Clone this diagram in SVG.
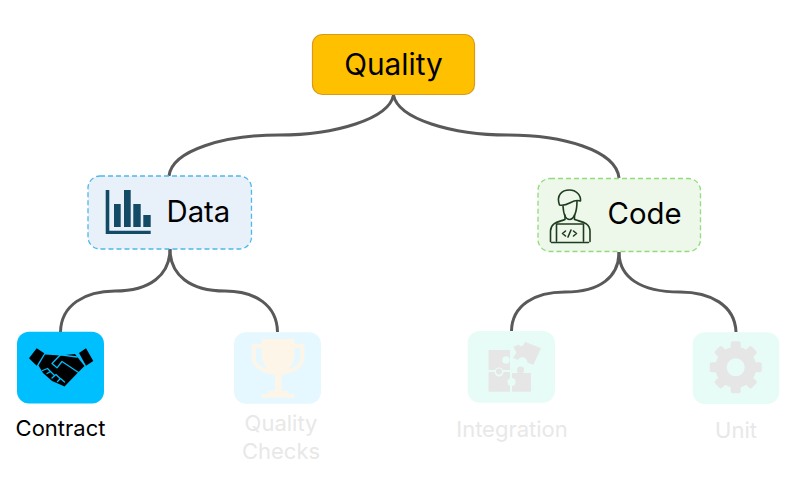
<svg xmlns="http://www.w3.org/2000/svg" width="790" height="477" viewBox="0 0 790 477">
<style>
text{font-family:"Inter","Noto Sans","Liberation Sans",sans-serif;fill:#000}
.big{font-size:29.800px}
.mid{font-size:29.300px}
.small{font-size:22px}
.faint{fill:#e8e8e8}
.link{fill:none;stroke:#595959;stroke-width:3}
.pz{fill:#e6e6e6}
.pzb{fill:#e8fcf7}
.tr{fill:#fdf5e8}
.trs{fill:none;stroke:#fdf5e8;stroke-width:4}
.ic{fill:#134a66}
.ps{fill:none;stroke:#1e3d1e;stroke-width:1.600;stroke-linejoin:round;stroke-linecap:round}
.gap{fill:none;stroke:#00bfff;stroke-width:1.300;stroke-linecap:round;stroke-linejoin:round}
</style>
<rect width="790" height="477" fill="#fff"/>
<g id="connectors">
<path class="link" d="M393.500 95C389 119 335 135 279 135C225 135 172 150 169 176"/>
<path class="link" d="M393.500 95C398 119 452 135 508 135C562 135 616 150 619 178"/>
<path class="link" d="M170 249C170 275 150 291 115 291C85 291 61 305 60.500 332"/>
<path class="link" d="M170 249C170 275 190 291 225 291C255 291 277 305 277.500 332"/>
<path class="link" d="M619 252C619 277 600 292 565 292C535 292 512 305 511.500 331"/>
<path class="link" d="M619 252C619 277 640 292 680 292C710 292 735 305 736 332"/>
</g>
<g id="quality">
<rect x="312.500" y="34.500" width="162" height="60" rx="10" fill="#ffc000" stroke="#d99a1c" stroke-width="1.200"/>
<text class="big" x="393.500" y="75" text-anchor="middle">Quality</text>
</g>
<g id="data">
<rect x="88" y="176" width="163.500" height="73" rx="12" fill="#e8f1fa" stroke="#4db8e8" stroke-width="1.300" stroke-dasharray="5 3"/>
<path class="ic" d="M105.700 190h3.600v40.700h41.400v3.300h-45zM114 204h6.700v23H114zM124 190h6.700v37H124zM133.300 204h7.400v23h-7.400zM143.300 215h7.400v12h-7.400z"/>
<text class="mid" x="166.500" y="221.500">Data</text>
</g>
<g id="code">
<rect x="538" y="178.500" width="162.500" height="73" rx="12" fill="#edf7ea" stroke="#92dc7e" stroke-width="1.300" stroke-dasharray="5 3"/>
<path class="ps" d="M559.500 205C556 195 562 190 569.500 190C576 190 581 195 580.500 201C572 198 569 207 559.500 205Z"/>
<path class="ps" d="M563 206C563.500 214 566 219.500 569.500 219.500C574 219.500 577 212 577 201"/>
<path class="ps" d="M565 215V219.500C559 222 551 222 550.500 231V241.500M574.500 215V219.500C581 222 589.500 222 590 231V241.500"/>
<path class="ps" d="M556.500 241V224H583.500V241M551.500 242.500H588.500"/>
<path class="ps" stroke-width="1.300" d="M565.500 231L562.500 233.500L565.500 236M573.500 231L576.500 233.500L573.500 236M571 230L568 237"/>
<text class="mid" x="607.500" y="224">Code</text>
</g>
<g id="contract">
<rect x="17" y="331.700" width="87" height="71.700" rx="12" fill="#00bfff"/>
<path d="M29 358.300L36.700 348.300L44.300 353.300L36.700 365.700ZM79 353L86 348.300L93.300 361L86 365.700Z"/>
<path d="M38.500 365.500L45 354.500L60 355.500L75 354L84.500 366L78.500 372L64.500 386.500L59 384L52 381L43 373Z"/>
<path class="gap" d="M77 357L60.500 354.800L52 363.500L57 367.800L62 361.500L78.500 372.500"/>
<path class="gap" d="M42.500 370.500L47.500 368.500L50 371M47 373.500L50.500 371.500L54 375M52 378L56 374.500L60 378.500M57.500 381.500L60.500 378.500L64.500 382"/>
<text class="small" x="60.500" y="436" text-anchor="middle">Contract</text>
</g>
<g id="quality-checks">
<rect x="234" y="332.300" width="87" height="71.500" rx="12" fill="#e5f8ff"/>
<path class="tr" d="M261.700 339H294.300V355C294.300 365 286 373 281.700 375V390.700H288.300V394H294.300V397.500H261.700V394H268.300V390.700H275V375C270 373 261.700 365 261.700 355Z"/>
<path class="trs" d="M262 346H253.700V358C253.700 366 264 372 277 373.500M294 346H302.300V358C302.300 366 292 372 279 373.500"/>
<text class="small faint" x="281" y="431" text-anchor="middle">Quality</text>
<text class="small faint" x="281" y="459" text-anchor="middle">Checks</text>
</g>
<g id="integration">
<rect x="467.700" y="331" width="87.300" height="71.700" rx="12" fill="#e8fcf7"/>
<path class="pz" d="M488.500 350H510V370H488.500ZM488.500 372H510V391.700H488.500Z"/>
<circle class="pzb" cx="506" cy="360" r="3.800"/>
<circle class="pzb" cx="499" cy="372" r="4.500"/>
<circle class="pz" cx="499" cy="371.500" r="3"/>
<path class="pz" d="M512 373H531V391.700H512Z"/>
<circle class="pzb" cx="511.500" cy="382" r="4"/>
<circle class="pz" cx="520.500" cy="370" r="3.600"/>
<path class="pz" d="M513.300 346.700L519 344.500C520 348 524 346 525 341.700L541 348.300L533.300 365L527.500 362.500C527 357 520 355.500 518 360L513 358L516.500 352.500Z"/>
<text class="small faint" x="512" y="436.500" text-anchor="middle">Integration</text>
</g>
<g id="unit">
<rect x="692.700" y="332.300" width="86.600" height="71.700" rx="12" fill="#e8fcf7"/>
<g class="pz" transform="translate(735.700 367.300)">
<circle r="20.500"/>
<rect x="-5" y="-26" width="10" height="10" rx="2"/>
<rect x="-5" y="-26" width="10" height="10" rx="2" transform="rotate(45)"/>
<rect x="-5" y="-26" width="10" height="10" rx="2" transform="rotate(90)"/>
<rect x="-5" y="-26" width="10" height="10" rx="2" transform="rotate(135)"/>
<rect x="-5" y="-26" width="10" height="10" rx="2" transform="rotate(180)"/>
<rect x="-5" y="-26" width="10" height="10" rx="2" transform="rotate(225)"/>
<rect x="-5" y="-26" width="10" height="10" rx="2" transform="rotate(270)"/>
<rect x="-5" y="-26" width="10" height="10" rx="2" transform="rotate(315)"/>
<circle class="pzb" r="9"/>
</g>
<text class="small faint" x="736" y="438" text-anchor="middle">Unit</text>
</g>
</svg>
